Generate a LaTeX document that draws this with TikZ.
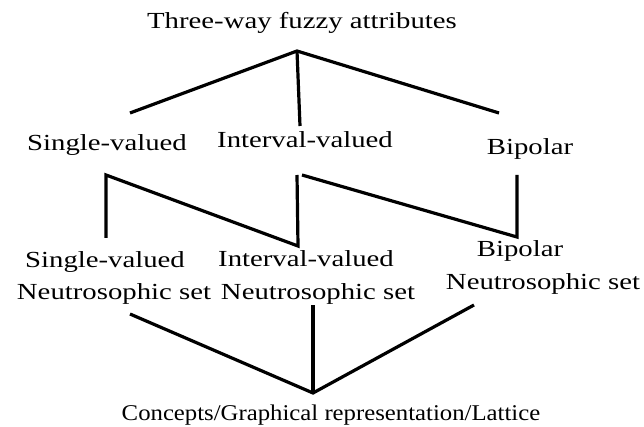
\documentclass[tikz,border=0pt]{standalone}
\usepackage{fontspec}
\setmainfont{Liberation Serif}[FakeStretch=1.25]
\newfontfamily\capfont{Liberation Serif}[FakeStretch=1.1]
\usetikzlibrary{positioning}

\begin{document}
\begin{tikzpicture}[
  x=1pt, y=-1pt,
  T/.style={anchor=base, inner sep=0pt, font=\fontsize{23}{27}\selectfont},
  E/.style={line width=3.2pt, line join=miter}]
\useasboundingbox (0,0) rectangle (644,427);
% the labels
\node[T] (top) at (302,29) {Three-way fuzzy attributes};
\node[T] (sv) at (107,151) {Single-valued};
\node[T] (iv) at (305,148) {Interval-valued};
\node[T] (bp) at (530,155) {Bipolar};
\node[T] (svn) at (105,268) {Single-valued};
\node[T] (svs) at (114,299) {Neutrosophic set};
\node[T] (ivn) at (306,266) {Interval-valued};
\node[T] (ivs) at (318,299) {Neutrosophic set};
\node[T] (bpn) at (520,256) {Bipolar};
\node[T] (bps) at (543,289) {Neutrosophic set};
\node[T, font=\capfont\fontsize{22.5}{26}\selectfont] (cl) at (331,420) {Concepts/Graphical representation/Lattice};
% joints
\coordinate (ta) at (297,51);
\coordinate (ts) at (130,113);
\coordinate (ti) at (300,126);
\coordinate (tb) at (499,113);
\coordinate (s1) at (106,175);
\coordinate (s2) at (106,238);
\coordinate (i1) at (297,175);
\coordinate (i2) at (298,246);
\coordinate (i3) at (302,175);
\coordinate (b1) at (517,175);
\coordinate (b2) at (517,237);
\coordinate (ns) at (130,314);
\coordinate (ni) at (313,305);
\coordinate (nb) at (474,305);
\coordinate (ca) at (313,393);
% the lines
\draw[E] (ts) -- (ta) -- (tb);
\draw[E] (ta) -- (ti);
\draw[E] (s2) -- (s1) -- (i2) -- (i1);
\draw[E] (i3) -- (b2) -- (b1);
\draw[E] (ns) -- (ca) -- (nb);
\draw[E] (ni) -- (ca);
\end{tikzpicture}
\end{document}
